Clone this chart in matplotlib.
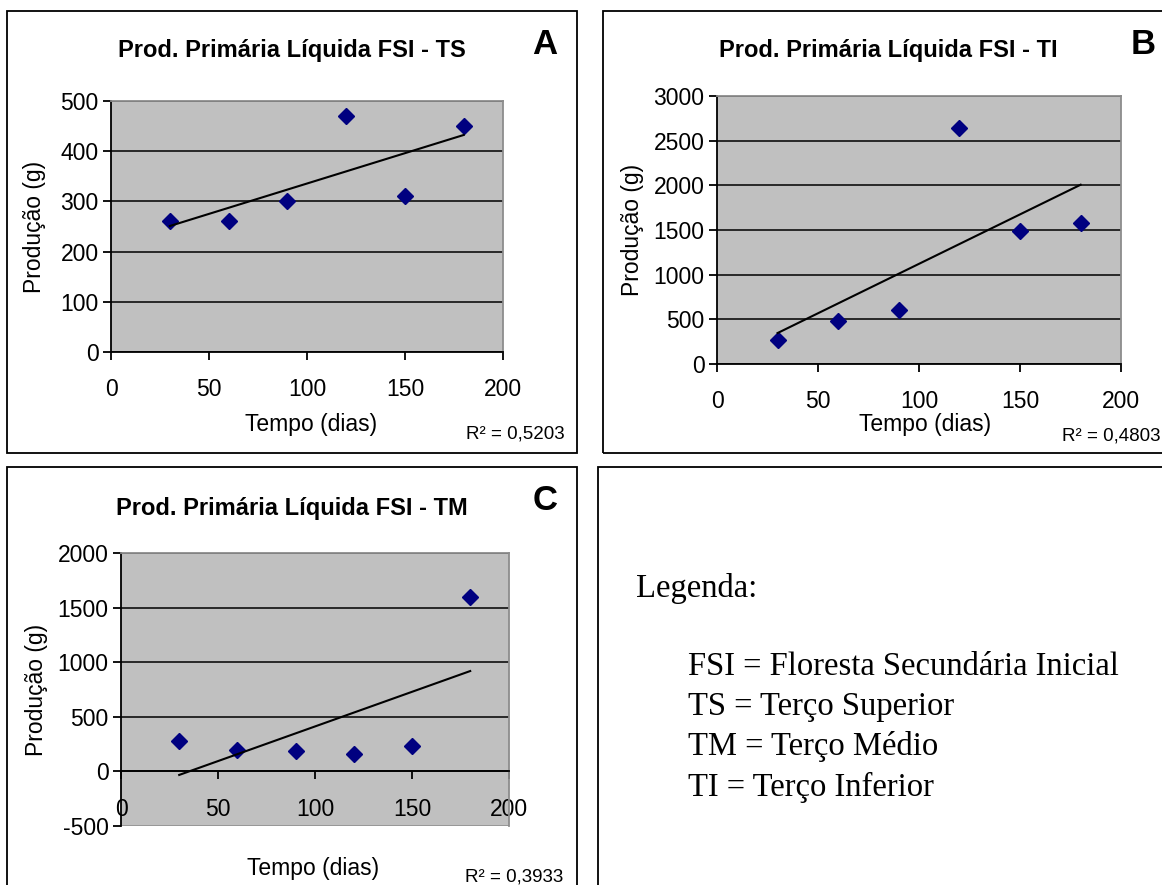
import matplotlib
matplotlib.use('Agg')
import matplotlib.pyplot as plt
from matplotlib.patches import Rectangle
import numpy as np

plt.rcParams['font.family'] = ['Liberation Sans', 'DejaVu Sans']
plt.rcParams['axes.unicode_minus'] = False

# data
dias = [30, 60, 90, 120, 150, 180]
prod_ts = [260, 260, 300, 470, 310, 450]
prod_ti = [270, 480, 600, 2640, 1490, 1580]
prod_tm = [280, 200, 190, 160, 230, 1600]
r2_ts = '0,5203'
r2_ti = '0,4803'
r2_tm = '0,3933'
legenda = ['FSI = Floresta Secundária Inicial', 'TS = Terço Superior',
           'TM = Terço Médio', 'TI = Terço Inferior']

W, H = 1162, 885
fig = plt.figure(figsize=(W / 100, H / 100), dpi=100)


def fx(x):
    return x / W


def fy(y):
    return 1 - y / H


def box(x0, y0, x1, y1):
    fig.add_artist(Rectangle((fx(x0), fy(y1)), fx(x1 - x0), (y1 - y0) / H,
                             transform=fig.transFigure, fill=False,
                             edgecolor='black', linewidth=1.3))


def painel(l, t, r, b, x, y, yticks, ylim, zero_axis=False):
    ax = fig.add_axes([fx(l), fy(b), fx(r - l), (b - t) / H])
    ax.set_facecolor('#c0c0c0')
    ax.set_xlim(0, 200)
    ax.set_ylim(*ylim)
    ax.set_xticks([0, 50, 100, 150, 200])
    ax.set_yticks(yticks)
    ax.set_axisbelow(True)
    ax.yaxis.grid(True, color='black', linewidth=1.1)
    for s in ['top', 'right']:
        ax.spines[s].set_color('#8c8c8c')
        ax.spines[s].set_linewidth(1.3)
    for s in ['left', 'bottom']:
        ax.spines[s].set_color('black')
        ax.spines[s].set_linewidth(1.3)
    if zero_axis:
        ax.spines['bottom'].set_position(('data', 0))
        ax.get_ygridlines()[0].set_color('#8c8c8c')
    ax.tick_params(axis='y', direction='out', length=6, width=1.3, pad=3,
                   labelsize=16.5)
    ax.tick_params(axis='x', direction='out', length=6, width=1.3, pad=13,
                   labelsize=16.5)
    ax.plot(x, y, linestyle='none', marker='D', markersize=8,
            color='#000080', zorder=3, clip_on=False)
    # linear trend line
    a, c = np.polyfit(x, y, 1)
    xs = np.array([min(x), max(x)])
    ax.plot(xs, a * xs + c, color='black', linewidth=1.5, zorder=4)
    return ax


# panel boxes
box(7, 11, 577, 453)
box(603, 11, 1175, 453)
box(7, 467, 577, 900)
box(598, 467, 1175, 900)

tsize = 17
lsize = 16.5

# A
painel(111, 101, 503, 352, dias, prod_ts, [0, 100, 200, 300, 400, 500], (0, 500))
fig.text(fx(292), fy(50), 'Prod. Primária Líquida FSI - TS', ha='center',
         va='center', fontsize=tsize, fontweight='bold')
fig.text(fx(545), fy(45), 'A', ha='center', va='center', fontsize=25,
         fontweight='bold')
fig.text(fx(35), fy(227), 'Produção (g)', rotation=90, ha='center',
         va='center', fontsize=lsize)
fig.text(fx(311), fy(425), 'Tempo (dias)', ha='center', va='center', fontsize=lsize)
fig.text(fx(565), fy(434), 'R² = ' + r2_ts, ha='right', va='center', fontsize=13.5)

# B
painel(717, 96, 1121, 364, dias, prod_ti,
       [0, 500, 1000, 1500, 2000, 2500, 3000], (0, 3000))
fig.text(fx(888), fy(50), 'Prod. Primária Líquida FSI - TI', ha='center',
         va='center', fontsize=tsize, fontweight='bold')
fig.text(fx(1143), fy(45), 'B', ha='center', va='center', fontsize=25,
         fontweight='bold')
fig.text(fx(632), fy(230), 'Produção (g)', rotation=90, ha='center',
         va='center', fontsize=lsize)
fig.text(fx(925), fy(424), 'Tempo (dias)', ha='center', va='center', fontsize=lsize)
fig.text(fx(1160), fy(436), 'R² = ' + r2_ti, ha='right', va='center', fontsize=13.5)

# C
painel(121, 553, 509, 826, dias, prod_tm,
       [-500, 0, 500, 1000, 1500, 2000], (-500, 2000), zero_axis=True)
fig.text(fx(292), fy(508), 'Prod. Primária Líquida FSI - TM', ha='center',
         va='center', fontsize=tsize, fontweight='bold')
fig.text(fx(545), fy(500), 'C', ha='center', va='center', fontsize=25,
         fontweight='bold')
fig.text(fx(36), fy(690), 'Produção (g)', rotation=90, ha='center',
         va='center', fontsize=lsize)
fig.text(fx(313), fy(869), 'Tempo (dias)', ha='center', va='center', fontsize=lsize)
fig.text(fx(563), fy(877), 'R² = ' + r2_tm, ha='right', va='center', fontsize=13.5)

# legend panel
serif = ['Liberation Serif', 'DejaVu Serif']
fig.text(fx(636), fy(588), 'Legenda:', ha='left', va='center', fontsize=23.5,
         family=serif)
for i, linha in enumerate(legenda):
    fig.text(fx(688), fy(667 + 40 * i), linha, ha='left', va='center',
             fontsize=23.5, family=serif)

fig.savefig('out.png', dpi=100)
